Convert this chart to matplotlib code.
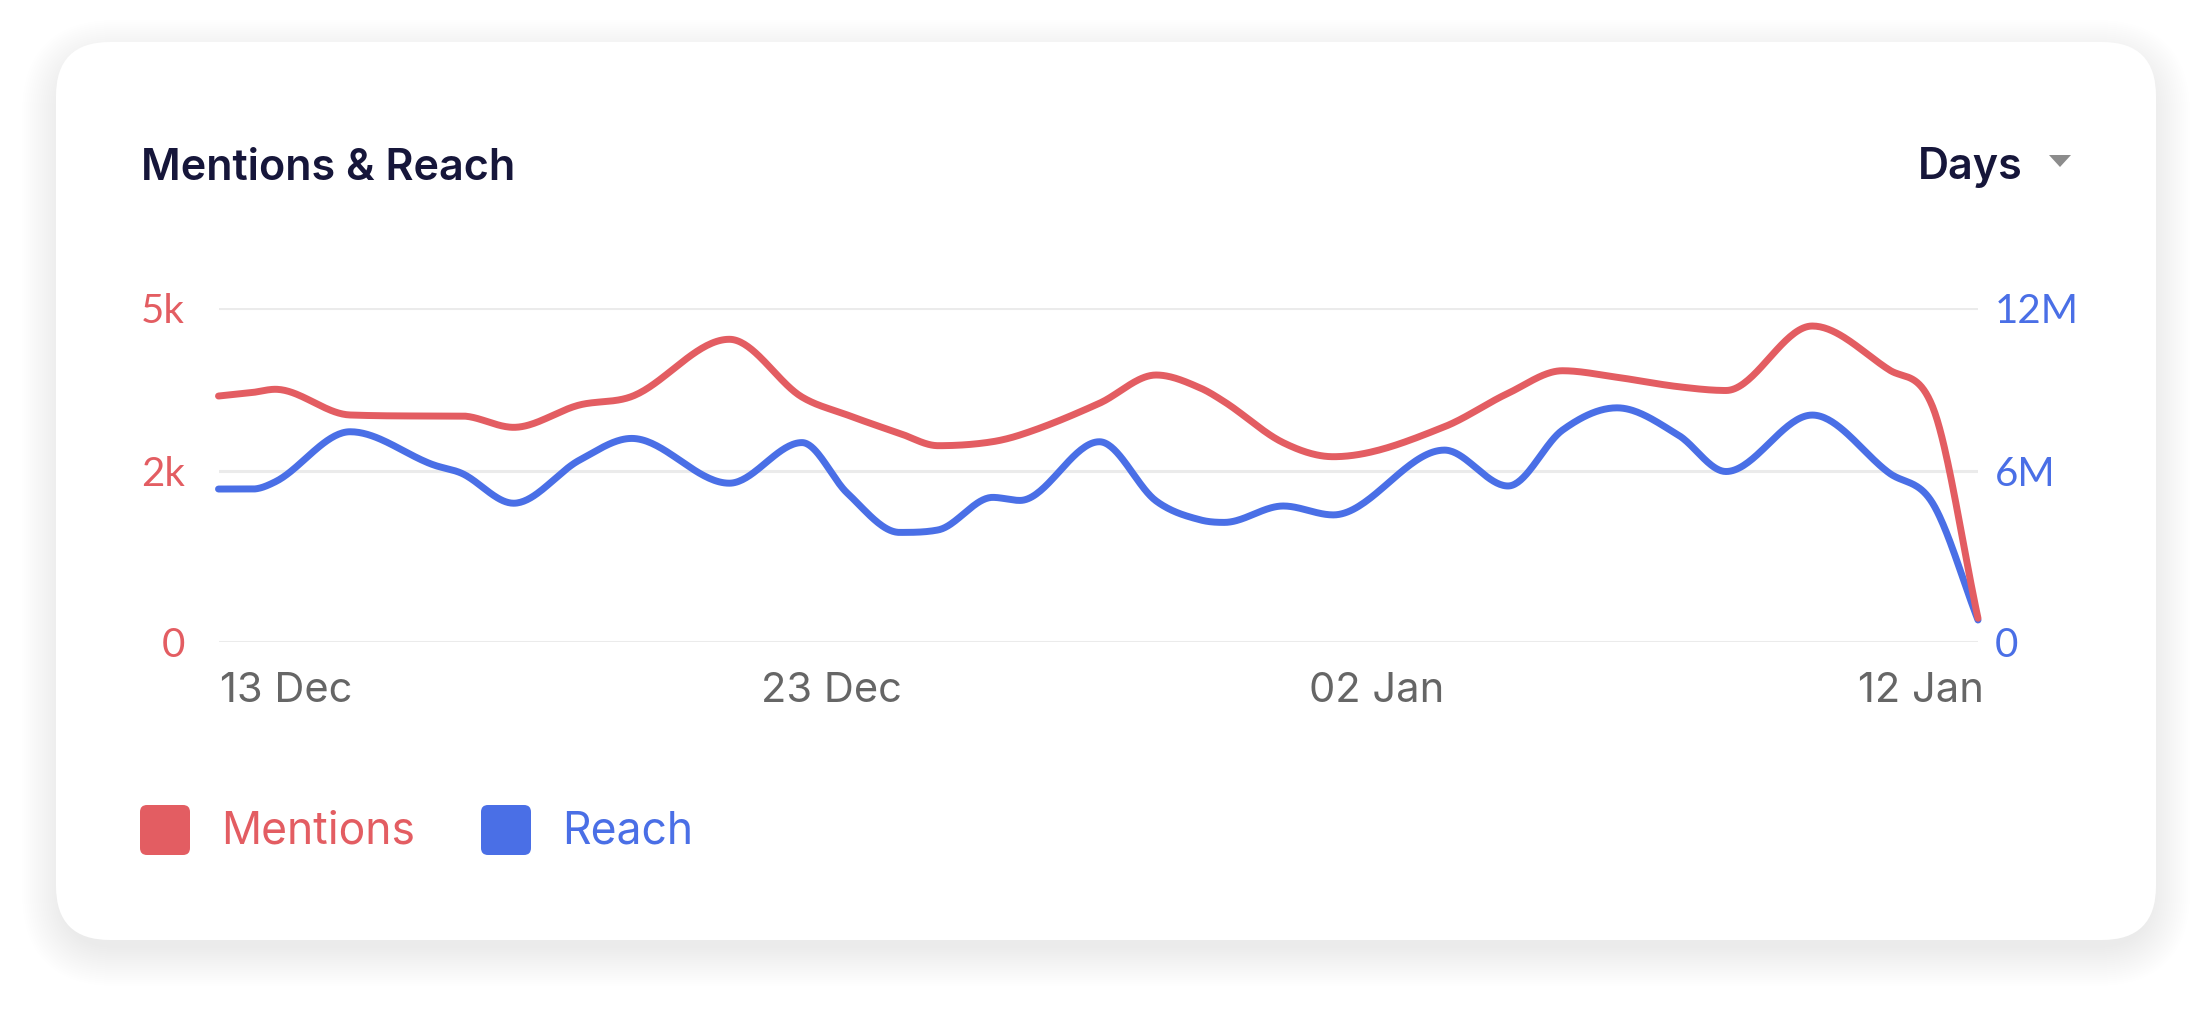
import numpy as np
import pandas as pd
import matplotlib
matplotlib.use('Agg')
from matplotlib import pyplot as plt
import matplotlib.dates as mdates
from matplotlib.patches import FancyBboxPatch, Polygon

plt.rcParams['font.family'] = ['Inter', 'DejaVu Sans']

# data: timestamps of points (irregular) and the two series
timestamps = ['2023-12-11 18:00', '2023-12-12 09:00', '2023-12-12 19:00', '2023-12-14 04:00',
              '2023-12-15 17:00', '2023-12-16 05:00', '2023-12-17 04:00', '2023-12-18 09:00',
              '2023-12-19 08:00', '2023-12-21 03:00', '2023-12-22 11:00', '2023-12-23 07:00',
              '2023-12-24 06:00', '2023-12-24 23:00', '2023-12-25 23:00', '2023-12-26 11:00',
              '2023-12-27 22:00', '2023-12-28 23:00', '2023-12-29 18:30', '2023-12-30 05:00',
              '2023-12-31 07:00', '2024-01-01 05:00', '2024-01-03 06:00', '2024-01-04 10:00',
              '2024-01-05 10:00', '2024-01-06 10:00', '2024-01-07 13:00', '2024-01-08 10:00',
              '2024-01-10 00:00', '2024-01-11 10:00', '2024-01-12 05:00', '2024-01-13 01:00']
mentions = [3681, 3734, 3782, 3397, 3382, 3382, 3212, 3547, 3674, 4531, 3666, 3397,
            3122, 2937, 2997, 3097, 3572, 3996, 3801, 3596, 2982, 2772, 3221, 3722,
            4060, 3962, 3821, 3764, 4730, 4071, 3521, 351]
reach = [5.49, 5.49, 5.75, 7.55, 6.35, 6.06, 4.98, 6.53, 7.31, 5.70, 7.16, 5.34,
         3.93, 4.02, 5.19, 5.08, 7.19, 5.06, 4.38, 4.29, 4.88, 4.56, 6.89, 5.60,
         7.61, 8.41, 7.43, 6.12, 8.15, 6.06, 4.98, 0.78]  # millions
tick_dates = ['2023-12-13', '2023-12-23', '2024-01-02', '2024-01-12']
tick_names = ['13 Dec', '23 Dec', '02 Jan', '12 Jan']

RED = '#e35d62'
BLUE = '#4a6fe6'


def monotone(x, y, n=40):
    # monotone cubic, Fritsch-Carlson (same idea as chart.js 'monotone')
    x = np.asarray(x, float); y = np.asarray(y, float)
    h = np.diff(x); d = np.diff(y) / h
    m = np.zeros_like(y)
    m[0] = d[0]; m[-1] = d[-1]
    for i in range(1, len(x) - 1):
        if d[i-1] * d[i] > 0:
            m[i] = (d[i-1] + d[i]) / 2
    for i in range(len(d)):
        if d[i] == 0:
            m[i] = m[i+1] = 0
            continue
        a = m[i] / d[i]; b = m[i+1] / d[i]
        sq = a*a + b*b
        if sq > 9:
            tau = 3 / np.sqrt(sq)
            m[i] = a * tau * d[i]
            m[i+1] = b * tau * d[i]
    xs, ys = [], []
    for i in range(len(h)):
        t = np.linspace(0, 1, n)
        h00 = 2*t**3 - 3*t**2 + 1; h10 = t**3 - 2*t**2 + t
        h01 = -2*t**3 + 3*t**2; h11 = t**3 - t**2
        xs.append(x[i] + t * h[i])
        ys.append(h00*y[i] + h10*h[i]*m[i] + h01*y[i+1] + h11*h[i]*m[i+1])
    return np.concatenate(xs), np.concatenate(ys)


fig = plt.figure(figsize=(22.12, 10.09), dpi=100)
fig.patch.set_facecolor('white')

# background card with a soft shadow
bg = fig.add_axes([0, 0, 1, 1])
bg.set_xlim(0, 2212); bg.set_ylim(1009, 0); bg.axis('off')
cx, cy, cw, ch, r = 56, 42, 2100, 898, 54
for e in range(40, 0, -2):
    bg.add_patch(FancyBboxPatch((cx - e + 6, cy - e + 18), cw + 2*e - 12, ch + 2*e - 12,
                                boxstyle=f'round,pad=0,rounding_size={r + e}',
                                fc='black', ec='none', alpha=0.0035))
bg.add_patch(FancyBboxPatch((cx, cy), cw, ch, boxstyle=f'round,pad=0,rounding_size={r}',
                            fc='white', ec='none'))

bg.text(141, 168, 'Mentions & Reach', fontsize=31, fontweight='semibold',
        color='#16163a', va='center', ha='left')
bg.text(2023, 168, 'Days', fontsize=31, fontweight='semibold',
        color='#16163a', va='center', ha='right')
bg.add_patch(Polygon([[2049, 155], [2071, 155], [2060, 167]], closed=True,
                     fc='#8c8c8c', ec='none'))

# legend
for x0, label, col in [(140, 'Mentions', RED), (481, 'Reach', BLUE)]:
    bg.add_patch(FancyBboxPatch((x0, 805), 50, 50, boxstyle='round,pad=0,rounding_size=7',
                                fc=col, ec='none'))
    bg.text(x0 + 81, 831, label, fontsize=32, color=col, va='center', ha='left')

# chart
x = mdates.date2num(pd.to_datetime(timestamps))
ax2 = fig.add_axes([218.5/2212, 1 - 641.7/1009, (1978 - 218.5)/2212, (641.7 - 308)/1009])
ax = ax2.twinx()
ax.patch.set_visible(False)

mid = 0.5106
ax2.set_ylim(0, 12)
ax2.set_yticks([0, 12*mid, 12])
ax2.set_yticklabels(['0', '6M', '12M'])
ax2.yaxis.tick_right()
ax.set_ylim(0, 5000)
ax.set_yticks([0, 5000*mid, 5000])
ax.set_yticklabels(['0', '2k', '5k'])
ax.yaxis.tick_left()

xr, yr = monotone(x, reach)
ax2.plot(xr, yr, color=BLUE, lw=5, solid_capstyle='round', clip_on=False)
xm, ym = monotone(x, mentions)
ax.plot(xm, ym, color=RED, lw=5, solid_capstyle='round', clip_on=False)

ax2.set_xlim(x[0], x[-1])
ax2.set_xticks(mdates.date2num(pd.to_datetime(tick_dates)))
ax2.set_xticklabels(tick_names)
ax2.grid(axis='y', color='#ebebeb', lw=2.2)
ax2.set_axisbelow(True)

for a in (ax, ax2):
    for sp in a.spines.values():
        sp.set_visible(False)
ax2.tick_params(axis='x', length=0, pad=22, labelsize=30, labelcolor='#666666')
ax2.tick_params(axis='y', length=0, pad=12, labelsize=29, labelcolor=BLUE)
ax.tick_params(axis='y', length=0, pad=24, labelsize=29, labelcolor=RED)
ax.tick_params(axis='x', bottom=False, labelbottom=False)
for lab in ax.get_yticklabels() + ax2.get_yticklabels():
    lab.set_family(['Lato', 'DejaVu Sans'])

fig.savefig('out.png', dpi=100, facecolor='white')
